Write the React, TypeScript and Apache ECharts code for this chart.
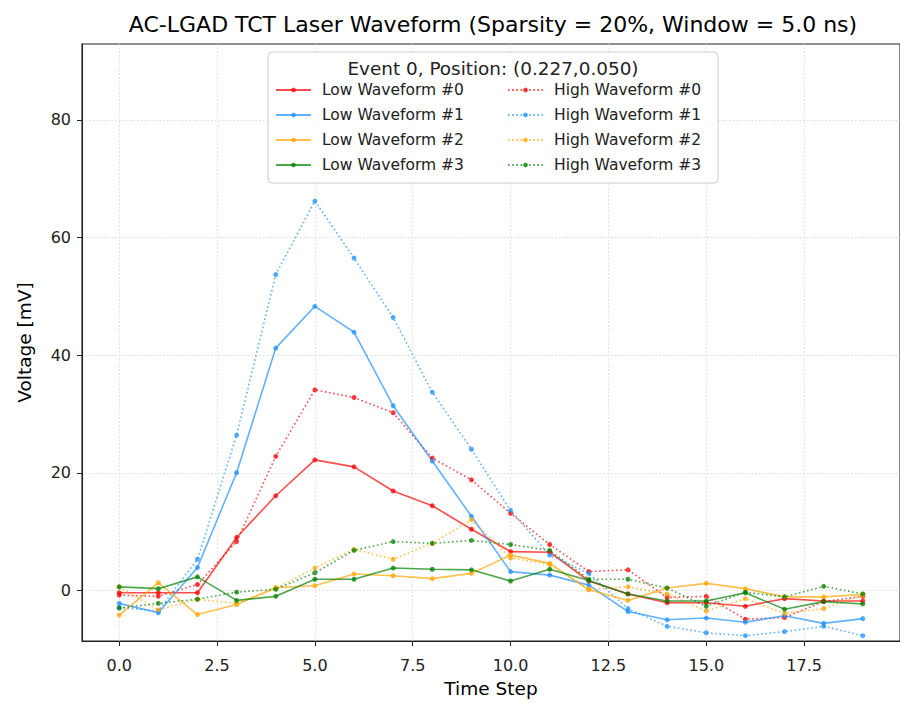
import React, { useEffect, useRef } from "react";
import * as echarts from "echarts";

const timeSteps = [0, 1, 2, 3, 4, 5, 6, 7, 8, 9, 10, 11, 12, 13, 14, 15, 16, 17, 18, 19];

const lowWave0 = [-0.4, -0.4, -0.4, 9.0, 16.1, 22.2, 21.0, 16.9, 14.4, 10.4, 6.6, 6.5, 1.6, -0.6, -2.1, -2.1, -2.7, -1.4, -1.8, -1.8];
const lowWave1 = [-2.2, -3.8, 3.9, 20.0, 41.2, 48.3, 43.9, 31.4, 22.0, 12.6, 3.2, 2.6, 0.9, -3.6, -5.0, -4.7, -5.4, -4.3, -5.6, -4.8];
const lowWave2 = [-4.2, 1.3, -4.1, -2.4, 0.5, 0.8, 2.8, 2.5, 2.0, 2.9, 6.0, 4.6, 0.1, -1.7, 0.4, 1.2, 0.3, -1.1, -1.1, -0.7];
const lowWave3 = [0.6, 0.3, 2.3, -1.7, -1.0, 1.9, 1.9, 3.8, 3.6, 3.5, 1.6, 3.6, 1.7, -0.6, -1.8, -1.8, -0.4, -3.2, -1.9, -2.3];

const highWave0 = [-0.8, -1.0, 1.0, 8.3, 22.8, 34.1, 32.8, 30.2, 22.5, 18.8, 13.1, 7.8, 3.2, 3.5, -1.2, -1.0, -4.9, -4.6, -1.9, -1.0];
const highWave1 = [-2.9, -3.5, 5.3, 26.4, 53.7, 66.2, 56.5, 46.4, 33.7, 24.0, 13.6, 6.0, 2.9, -3.1, -6.1, -7.2, -7.7, -7.0, -6.1, -7.7];
const highWave2 = [0.6, -3.3, -1.5, -2.2, 0.3, 3.8, 7.0, 5.3, 8.0, 12.0, 5.5, 4.4, 0.2, 0.6, -0.6, -3.5, -1.4, -3.9, -3.1, -0.8];
const highWave3 = [-3.0, -2.2, -1.5, -0.3, 0.2, 3.0, 6.8, 8.3, 8.0, 8.5, 7.8, 6.8, 1.9, 1.9, 0.4, -2.7, -0.3, -1.1, 0.7, -0.6];

const lowNames = ["Low Waveform #0", "Low Waveform #1", "Low Waveform #2", "Low Waveform #3"];
const highNames = ["High Waveform #0", "High Waveform #1", "High Waveform #2", "High Waveform #3"];
const lowValues = [lowWave0, lowWave1, lowWave2, lowWave3];
const highValues = [highWave0, highWave1, highWave2, highWave3];
const colors = ["#ff0000", "#1e90ff", "#ffa500", "#008000"];

const xTicks = [0, 2.5, 5, 7.5, 10, 12.5, 15, 17.5];
const yTicks = [0, 20, 40, 60, 80];

const titleText = "AC-LGAD TCT Laser Waveform (Sparsity = 20%, Window = 5.0 ns)";
const legendTitle = "Event 0, Position: (0.227,0.050)";

const FONT = "DejaVu Sans";

export default function App() {
  const ref = useRef<HTMLDivElement>(null);

  useEffect(() => {
    if (!ref.current) return;
    const chart = echarts.init(ref.current, null, { renderer: "svg" });

    const makeSeries = (name: string, vals: number[], color: string, dotted: boolean) => ({
      name,
      type: "line",
      data: timeSteps.map((t, i) => [t, vals[i]]),
      symbol: "circle",
      symbolSize: 5,
      showSymbol: true,
      lineStyle: {
        color,
        width: 1.6,
        opacity: 0.7,
        type: dotted ? [1.6, 2.6] : "solid",
      },
      itemStyle: { color, opacity: 0.75, borderWidth: 0 },
      emphasis: { disabled: true },
      z: 3,
    });

    const series: any[] = [];
    for (let k = 0; k < 4; k++) {
      series.push(makeSeries(lowNames[k], lowValues[k], colors[k], false));
      series.push(makeSeries(highNames[k], highValues[k], colors[k], true));
    }

    const legendBase = {
      orient: "vertical",
      top: 82,
      itemWidth: 35,
      itemHeight: 6,
      itemGap: 9,
      padding: 0,
      selectedMode: false,
      textStyle: { fontFamily: FONT, fontSize: 15.5, color: "#222", padding: [0, 0, 0, 6] },
      z: 10,
    };

    chart.setOption({
      animation: false,
      backgroundColor: "#ffffff",
      title: {
        text: titleText,
        left: 493,
        top: 13,
        textAlign: "center",
        padding: 0,
        textStyle: { fontFamily: FONT, fontSize: 22, fontWeight: "normal", color: "#000" },
      },
      grid: {
        left: 82,
        top: 44,
        width: 823,
        height: 599,
        show: true,
        borderColor: "#222",
        borderWidth: 1.1,
        backgroundColor: "transparent",
      },
      legend: [
        { ...legendBase, left: 275, data: lowNames },
        { ...legendBase, left: 507, data: highNames },
      ],
      graphic: [
        {
          type: "rect",
          shape: { x: 268, y: 52, width: 450, height: 131, r: 4 },
          style: { fill: "rgba(255,255,255,0.8)", stroke: "#cccccc", lineWidth: 1 },
          z: 8,
        },
        {
          type: "text",
          x: 493,
          y: 68,
          style: {
            text: legendTitle,
            fontFamily: FONT,
            fontSize: 18.4,
            fill: "#222",
            textAlign: "center",
            textVerticalAlign: "middle",
          },
          z: 9,
        },
      ],
      xAxis: {
        type: "value",
        min: -0.95,
        max: 19.95,
        name: "Time Step",
        nameLocation: "middle",
        nameGap: 38,
        nameTextStyle: { fontFamily: FONT, fontSize: 18.5, color: "#000" },
        axisLine: { show: true, onZero: false, lineStyle: { color: "#222", width: 1.1 } },
        axisTick: { show: true, length: 5, customValues: xTicks, lineStyle: { color: "#222", width: 1 } },
        axisLabel: {
          customValues: xTicks,
          margin: 16,
          fontFamily: FONT,
          fontSize: 16,
          color: "#222",
          formatter: (v: number) => v.toFixed(1),
        },
        splitLine: { show: true, lineStyle: { color: "#d4d4d4", width: 1, type: [1.2, 2.5] } },
      },
      yAxis: {
        type: "value",
        min: -8.6,
        max: 92.9,
        name: "Voltage [mV]",
        nameLocation: "middle",
        nameGap: 48,
        nameTextStyle: { fontFamily: FONT, fontSize: 18.5, color: "#000" },
        axisLine: { show: true, onZero: false, lineStyle: { color: "#222", width: 1.1 } },
        axisTick: { show: true, length: 5, customValues: yTicks, lineStyle: { color: "#222", width: 1 } },
        axisLabel: {
          customValues: yTicks,
          margin: 11,
          fontFamily: FONT,
          fontSize: 16,
          color: "#222",
        },
        splitLine: { show: true, lineStyle: { color: "#d4d4d4", width: 1, type: [1.2, 2.5] } },
      },
      series,
    });

    return () => chart.dispose();
  }, []);

  return (
    <div
      ref={ref}
      style={{ position: "fixed", left: 0, top: 0, width: 900, height: 703, background: "#fff" }}
    />
  );
}
